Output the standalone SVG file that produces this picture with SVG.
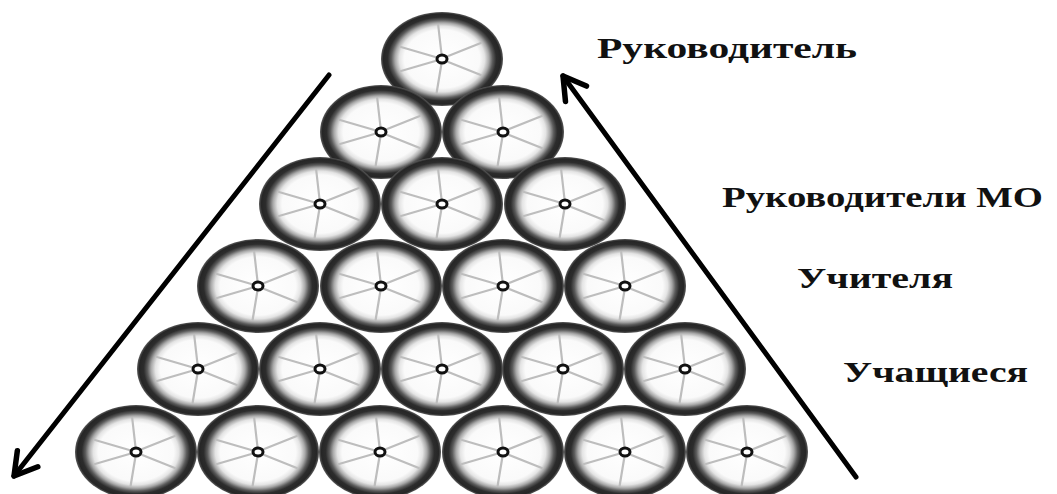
<svg xmlns="http://www.w3.org/2000/svg" xmlns:xlink="http://www.w3.org/1999/xlink" width="1057" height="494" viewBox="0 0 1057 494">
  <style>
    .lbl { font-family: "Liberation Serif", "Times New Roman", serif; font-weight: bold; font-size: 30px; fill: #111; }
    .arrow { stroke: #000; stroke-width: 5; fill: none; stroke-linecap: round; }
    .spoke { stroke: #bdbdbd; stroke-width: 2.2; stroke-linecap: round; }
  </style>
  <defs>
    <radialGradient id="tire" cx="0.5" cy="0.5" r="0.5">
      <stop offset="0" stop-color="#ffffff"/>
      <stop offset="0.62" stop-color="#fafafa"/>
      <stop offset="0.7" stop-color="#e4e4e4"/>
      <stop offset="0.77" stop-color="#a8a8a8"/>
      <stop offset="0.83" stop-color="#5c5c5c"/>
      <stop offset="0.89" stop-color="#2c2c2c"/>
      <stop offset="0.96" stop-color="#262626"/>
      <stop offset="1" stop-color="#5a5a5a"/>
    </radialGradient>
    <g id="wheel">
      <ellipse cx="0" cy="0" rx="61" ry="47" fill="url(#tire)"/>
      <line class="spoke" x1="-0.5" y1="-5" x2="-3.8" y2="-34"/>
      <line class="spoke" x1="5" y1="-2.5" x2="38.8" y2="-16"/>
      <line class="spoke" x1="5" y1="2.5" x2="38.8" y2="16"/>
      <line class="spoke" x1="-0.6" y1="5" x2="-5.4" y2="34"/>
      <line class="spoke" x1="-5" y1="1.5" x2="-41" y2="12"/>
      <line class="spoke" x1="-5" y1="-1.5" x2="-41" y2="-12"/>
      <ellipse cx="0" cy="0" rx="5" ry="4" fill="#fff" stroke="#111" stroke-width="3"/>
    </g>
    <marker id="head" markerUnits="userSpaceOnUse" markerWidth="40" markerHeight="40" viewBox="-30 -20 40 40" refX="0" refY="0" orient="auto" overflow="visible">
      <path d="M -22 -13 L 0 0 L -22 13" fill="none" stroke="#000" stroke-width="5.5" stroke-linecap="round" stroke-linejoin="round"/>
    </marker>
  </defs>

  <g id="connectors">
    <line class="arrow" x1="329" y1="75" x2="14" y2="476" marker-end="url(#head)"/>
    <line class="arrow" x1="856" y1="477" x2="563" y2="76" marker-end="url(#head)"/>
  </g>

  <g id="row1">
    <use xlink:href="#wheel" href="#wheel" transform="translate(442,59)"/>
  </g>
  <g id="row2">
    <use href="#wheel" transform="translate(381,132)"/>
    <use href="#wheel" transform="translate(503,132)"/>
  </g>
  <g id="row3">
    <use href="#wheel" transform="translate(320,204)"/>
    <use href="#wheel" transform="translate(442,204)"/>
    <use href="#wheel" transform="translate(565,204)"/>
  </g>
  <g id="row4">
    <use href="#wheel" transform="translate(258,286)"/>
    <use href="#wheel" transform="translate(381,286)"/>
    <use href="#wheel" transform="translate(503,286)"/>
    <use href="#wheel" transform="translate(625,286)"/>
  </g>
  <g id="row5">
    <use href="#wheel" transform="translate(198,369)"/>
    <use href="#wheel" transform="translate(320,369)"/>
    <use href="#wheel" transform="translate(442,369)"/>
    <use href="#wheel" transform="translate(563,369)"/>
    <use href="#wheel" transform="translate(685,369)"/>
  </g>
  <g id="row6">
    <use href="#wheel" transform="translate(136,452)"/>
    <use href="#wheel" transform="translate(258,452)"/>
    <use href="#wheel" transform="translate(380,452)"/>
    <use href="#wheel" transform="translate(503,452)"/>
    <use href="#wheel" transform="translate(625,452)"/>
    <use href="#wheel" transform="translate(747,452)"/>
  </g>

  <g id="label-head">
    <text class="lbl" x="597" y="58" textLength="260" lengthAdjust="spacingAndGlyphs">Руководитель</text>
  </g>
  <g id="label-mo">
    <text class="lbl" x="722" y="207" textLength="321" lengthAdjust="spacingAndGlyphs">Руководители МО</text>
  </g>
  <g id="label-teachers">
    <text class="lbl" x="797" y="288" textLength="156" lengthAdjust="spacingAndGlyphs">Учителя</text>
  </g>
  <g id="label-students">
    <text class="lbl" x="843" y="382" textLength="185" lengthAdjust="spacingAndGlyphs">Учащиеся</text>
  </g>
</svg>
